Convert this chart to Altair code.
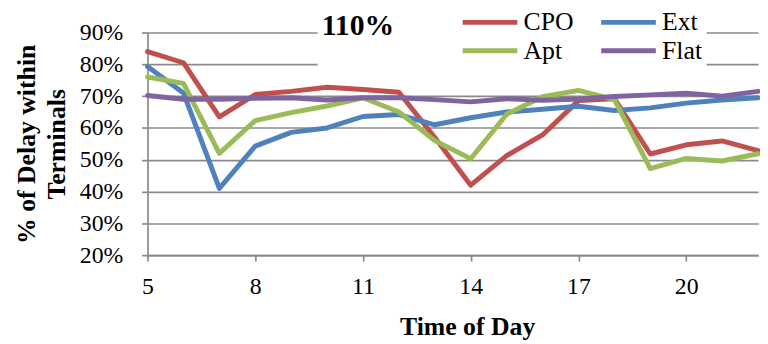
import altair as alt
import pandas as pd

hours = list(range(5, 23))
series = ["CPO", "Ext", "Apt", "Flat"]
colors = ["#C0504D", "#4F81BD", "#9BBB59", "#8064A2"]

cpo = [84, 80.5, 63.5, 70.5, 71.5, 72.8, 72.1, 71.2, 57, 42, 51.3, 57.8, 68.6, 69.2, 51.8, 54.7, 55.9, 52.9]
ext = [79.3, 71, 41, 54.3, 58.6, 60, 63.6, 64.2, 61, 63.2, 65, 65.9, 66.8, 65.5, 66.3, 67.8, 68.8, 69.5]
apt = [76, 74, 52, 62.3, 64.8, 66.9, 69.5, 65, 56, 50.3, 64.3, 69.8, 71.8, 68.9, 47.2, 50.4, 49.6, 51.9]
flat = [70.2, 69, 69, 69.3, 69.5, 68.8, 69.5, 69.5, 68.9, 68.2, 69.2, 68.7, 69.1, 69.9, 70.4, 70.9, 70, 71.5]

x_ticks = [5, 8, 11, 14, 17, 20]
y_ticks = [0.2, 0.3, 0.4, 0.5, 0.6, 0.7, 0.8, 0.9]

rows = []
for name, vals in zip(series, [cpo, ext, apt, flat]):
    for h, v in zip(hours, vals):
        rows.append({"Hour": h, "Value": v / 100, "Series": name})
df = pd.DataFrame(rows)

FONT = "Liberation Serif"
AX = "#8a8a8a"

x_enc = alt.X(
    "Hour:Q",
    scale=alt.Scale(domain=[5, 22], nice=False, zero=False),
    axis=alt.Axis(
        values=x_ticks, format="d", grid=False, labelFlush=False,
        domainColor=AX, domainWidth=1.7, tickColor=AX, tickWidth=1.7, tickSize=6,
        labelFont=FONT, labelFontSize=24, labelColor="black", labelPadding=14,
        title="Time of Day", titleFont=FONT, titleFontSize=26, titleFontWeight="bold",
        titleColor="black", titleX=323, titleY=80, titleBaseline="alphabetic", titleAlign="center",
    ),
)
y_enc = alt.Y(
    "Value:Q",
    scale=alt.Scale(domain=[0.2, 0.9], nice=False, zero=False),
    axis=alt.Axis(
        values=y_ticks, format=".0%", gridColor=AX, gridWidth=1.7,
        domainColor=AX, domainWidth=1.7, tickColor=AX, tickWidth=1.7, tickSize=6,
        labelFont=FONT, labelFontSize=24, labelColor="black", labelPadding=19, labelOverlap=False,
        title=["% of Delay within", "Terminals"], titleFont=FONT, titleFontSize=26,
        titleFontWeight="bold", titleColor="black", titleLineHeight=30, titlePadding=10,
    ),
)
color_enc = alt.Color(
    "Series:N",
    scale=alt.Scale(domain=series, range=colors),
    legend=alt.Legend(
        orient="none", legendX=172, legendY=-30, columns=2, direction="horizontal",
        symbolType="M-1,0L3.25,0", symbolSize=676, symbolStrokeWidth=5,
        labelFont=FONT, labelFontSize=26, labelColor="black", labelOffset=33,
        title=["", "110%"], titleOrient="left", titleAnchor="start", titleBaseline="top",
        titleLineHeight=4, titleFont=FONT, titleFontSize=30,
        titleFontWeight="bold", titleColor="black", titlePadding=66,
        fillColor="white", padding=4, rowPadding=0, columnPadding=17,
    ),
)

base = alt.Chart(df).mark_line(strokeWidth=5, strokeJoin="round", strokeCap="round").encode(
    x=x_enc, y=y_enc, color=color_enc
)
layers = [base.transform_filter(alt.datum.Series == s) for s in series]

chart = alt.layer(*layers).properties(
    width=617, height=225,
    autosize=alt.AutoSizeParams(type="none"),
    padding={"left": 141, "top": 23, "right": 2, "bottom": 88},
).configure_view(stroke=None)

chart.save("out.html", embed_options={"renderer": "svg", "actions": False})
